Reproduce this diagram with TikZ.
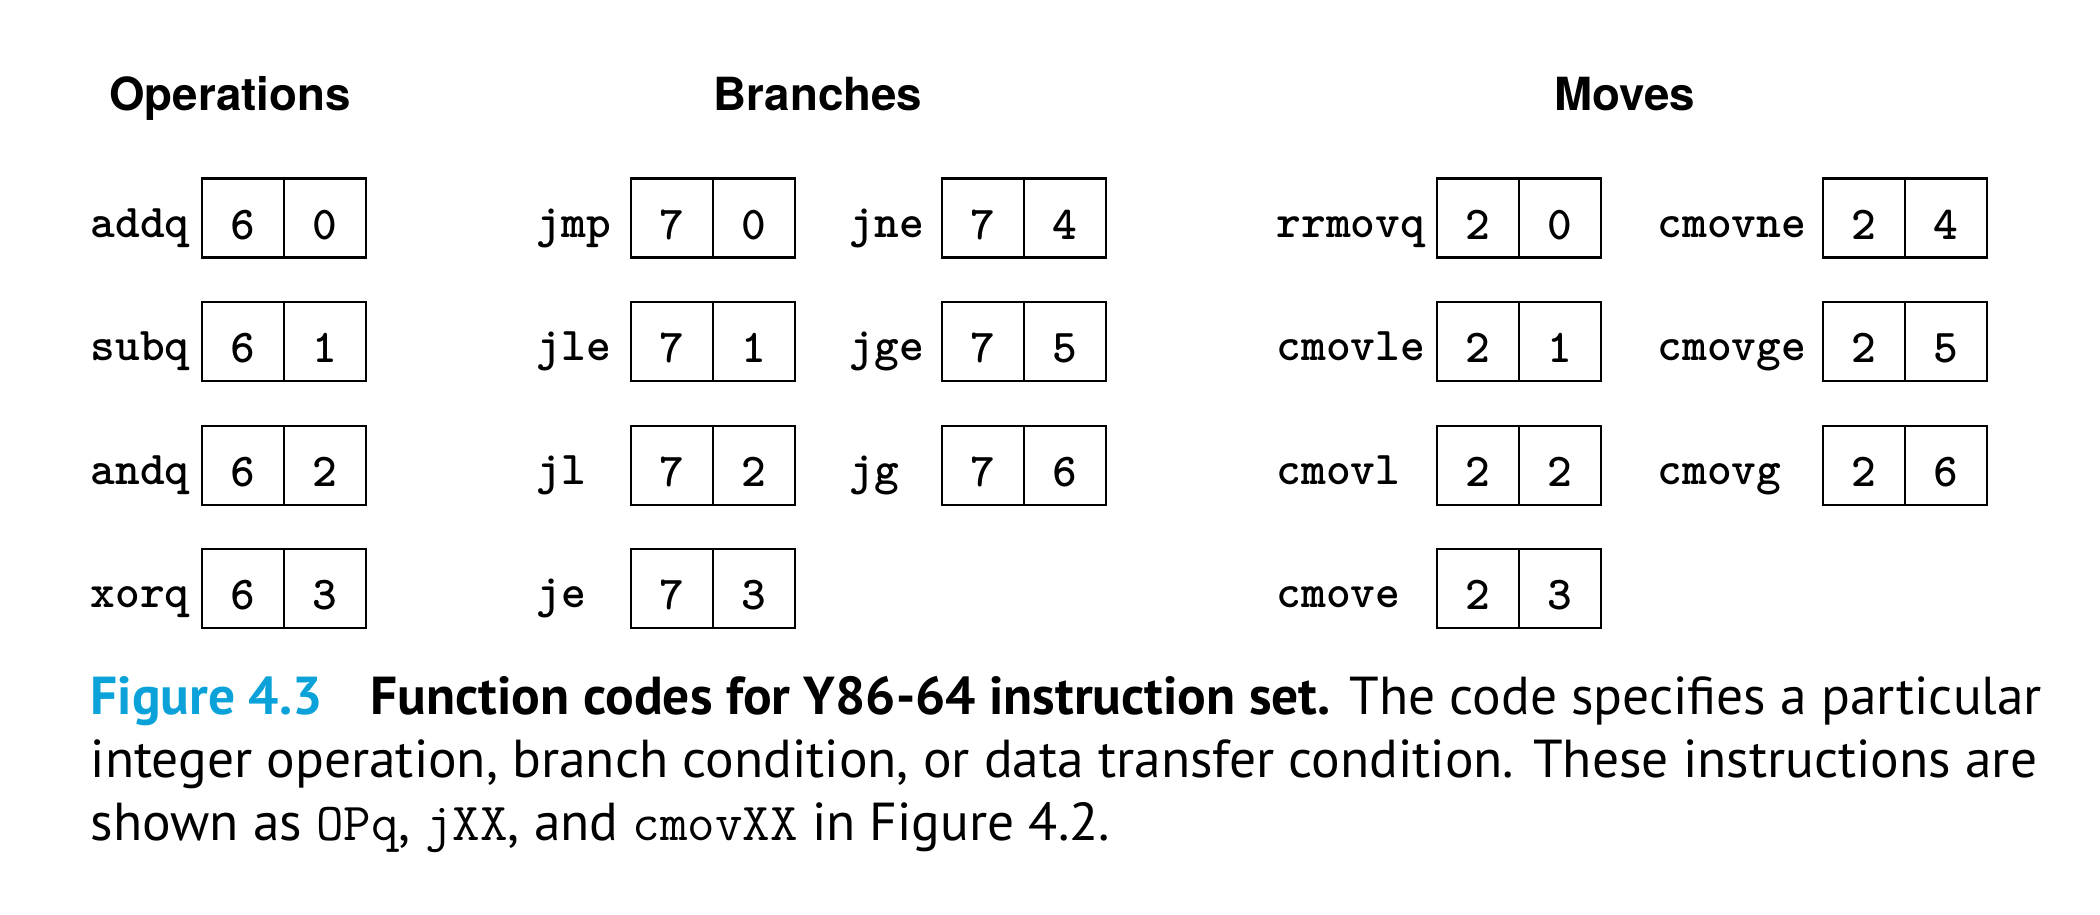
\documentclass[tikz,border=0pt]{standalone}
\usepackage{fontspec}
\setsansfont{TeX Gyre Heros}
\newfontfamily\capfont{PT Sans}
\newcommand\codefont{\ttfamily\bfseries}
\definecolor{figCyan}{HTML}{0AA2D9}
\usetikzlibrary{positioning}

\begin{document}
\begin{tikzpicture}[
  cell/.style={draw, line width=0.6pt, minimum width=0.82cm, minimum height=0.79cm, inner sep=0pt, outer sep=0pt, text height=0.42cm, text depth=0pt, font=\fontsize{13.4}{16}\codefont},
  mnem/.style={anchor=base west, inner sep=0pt, font=\fontsize{13.4}{16}\codefont},
  head/.style={anchor=base, font=\fontsize{13}{16}\sffamily\bfseries},
  captext/.style={anchor=base west, inner sep=0pt, font=\fontsize{15.2}{18}\capfont}
]
  \useasboundingbox (0,0) rectangle (21,-9.14);

  \node[head] (ops) at (2.30,-1.10) {Operations};
  \node[head] (br) at (8.18,-1.10) {Branches};
  \node[head] (mv) at (16.25,-1.10) {Moves};

  % name / code / function / label x / first cell x / row
  \foreach \op/\hi/\lo/\lx/\cx/\r in {
      addq/6/0/0.90/2.43/0, subq/6/1/0.90/2.43/1, andq/6/2/0.90/2.43/2, xorq/6/3/0.90/2.43/3,
      jmp/7/0/5.36/6.72/0, jle/7/1/5.36/6.72/1, jl/7/2/5.36/6.72/2, je/7/3/5.36/6.72/3,
      jne/7/4/8.49/9.83/0, jge/7/5/8.49/9.83/1, jg/7/6/8.49/9.83/2,
      rrmovq/2/0/12.76/14.78/0, cmovle/2/1/12.76/14.78/1, cmovl/2/2/12.76/14.78/2, cmove/2/3/12.76/14.78/3,
      cmovne/2/4/16.57/18.64/0, cmovge/2/5/16.57/18.64/1, cmovg/2/6/16.57/18.64/2}{
    \node[cell] (\op-hi) at (\cx,-2.18-1.236*\r) {\hi};
    \node[cell, right=0pt of \op-hi] (\op-lo) {\lo};
    \node[mnem] (\op) at (\lx,-2.37-1.236*\r) {\op};
  }

  \node[captext] (cap1) at (0.90,-7.14) {{\color{figCyan}\bfseries Figure 4.3}\hspace{0.9em}{\bfseries Function codes for Y86-64 instruction set.} The code specifies a particular};
  \node[captext] (cap2) at (0.90,-7.77) {integer operation, branch condition, or data transfer condition. These instructions are};
  \node[captext] (cap3) at (0.90,-8.40) {shown as {\ttfamily OPq}, {\ttfamily jXX}, and {\ttfamily cmovXX} in Figure 4.2.};
\end{tikzpicture}
\end{document}
